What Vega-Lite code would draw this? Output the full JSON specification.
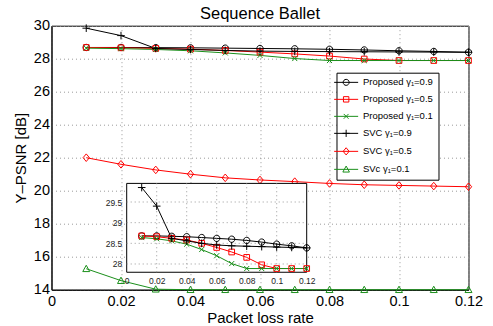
{
  "$schema": "https://vega.github.io/schema/vega-lite/v6.json",
  "width": 417,
  "height": 264,
  "autosize": {"type": "none"},
  "padding": {"left": 51.5, "top": 25.7, "right": 24.3, "bottom": 36.3},
  "background": "white",
  "title": {"text": "Sequence Ballet", "fontSize": 16.5, "fontWeight": "normal", "font": "Liberation Sans", "color": "black", "frame": "group", "offset": 2, "dy": 7},
  "config": {
    "font": "Liberation Sans",
    "view": {"stroke": "black", "strokeWidth": 1},
    "axis": {"labelColor": "black", "titleColor": "black", "labelFont": "Liberation Sans", "titleFont": "Liberation Sans", "titleFontWeight": "normal", "domainColor": "black", "tickColor": "black"}
  },
  "datasets": {
    "pts": [
      {"x": 0.01, "y": 28.68, "s": "Proposed γ₁=0.9"},
      {"x": 0.02, "y": 28.68, "s": "Proposed γ₁=0.9"},
      {"x": 0.03, "y": 28.67, "s": "Proposed γ₁=0.9"},
      {"x": 0.04, "y": 28.66, "s": "Proposed γ₁=0.9"},
      {"x": 0.05, "y": 28.64, "s": "Proposed γ₁=0.9"},
      {"x": 0.06, "y": 28.62, "s": "Proposed γ₁=0.9"},
      {"x": 0.07, "y": 28.6, "s": "Proposed γ₁=0.9"},
      {"x": 0.08, "y": 28.57, "s": "Proposed γ₁=0.9"},
      {"x": 0.09, "y": 28.53, "s": "Proposed γ₁=0.9"},
      {"x": 0.1, "y": 28.48, "s": "Proposed γ₁=0.9"},
      {"x": 0.11, "y": 28.44, "s": "Proposed γ₁=0.9"},
      {"x": 0.12, "y": 28.39, "s": "Proposed γ₁=0.9"},
      {"x": 0.01, "y": 28.68, "s": "Proposed γ₁=0.5"},
      {"x": 0.02, "y": 28.66, "s": "Proposed γ₁=0.5"},
      {"x": 0.03, "y": 28.62, "s": "Proposed γ₁=0.5"},
      {"x": 0.04, "y": 28.58, "s": "Proposed γ₁=0.5"},
      {"x": 0.05, "y": 28.5, "s": "Proposed γ₁=0.5"},
      {"x": 0.06, "y": 28.4, "s": "Proposed γ₁=0.5"},
      {"x": 0.07, "y": 28.29, "s": "Proposed γ₁=0.5"},
      {"x": 0.08, "y": 28.16, "s": "Proposed γ₁=0.5"},
      {"x": 0.09, "y": 27.98, "s": "Proposed γ₁=0.5"},
      {"x": 0.1, "y": 27.89, "s": "Proposed γ₁=0.5"},
      {"x": 0.11, "y": 27.89, "s": "Proposed γ₁=0.5"},
      {"x": 0.12, "y": 27.89, "s": "Proposed γ₁=0.5"},
      {"x": 0.01, "y": 28.64, "s": "Proposed γ₁=0.1"},
      {"x": 0.02, "y": 28.61, "s": "Proposed γ₁=0.1"},
      {"x": 0.03, "y": 28.56, "s": "Proposed γ₁=0.1"},
      {"x": 0.04, "y": 28.48, "s": "Proposed γ₁=0.1"},
      {"x": 0.05, "y": 28.35, "s": "Proposed γ₁=0.1"},
      {"x": 0.06, "y": 28.2, "s": "Proposed γ₁=0.1"},
      {"x": 0.07, "y": 28.01, "s": "Proposed γ₁=0.1"},
      {"x": 0.08, "y": 27.89, "s": "Proposed γ₁=0.1"},
      {"x": 0.09, "y": 27.89, "s": "Proposed γ₁=0.1"},
      {"x": 0.1, "y": 27.89, "s": "Proposed γ₁=0.1"},
      {"x": 0.11, "y": 27.89, "s": "Proposed γ₁=0.1"},
      {"x": 0.12, "y": 27.89, "s": "Proposed γ₁=0.1"},
      {"x": 0.01, "y": 29.85, "s": "SVC γ₁=0.9"},
      {"x": 0.02, "y": 29.4, "s": "SVC γ₁=0.9"},
      {"x": 0.03, "y": 28.62, "s": "SVC γ₁=0.9"},
      {"x": 0.04, "y": 28.56, "s": "SVC γ₁=0.9"},
      {"x": 0.05, "y": 28.5, "s": "SVC γ₁=0.9"},
      {"x": 0.06, "y": 28.46, "s": "SVC γ₁=0.9"},
      {"x": 0.07, "y": 28.44, "s": "SVC γ₁=0.9"},
      {"x": 0.08, "y": 28.43, "s": "SVC γ₁=0.9"},
      {"x": 0.09, "y": 28.42, "s": "SVC γ₁=0.9"},
      {"x": 0.1, "y": 28.41, "s": "SVC γ₁=0.9"},
      {"x": 0.11, "y": 28.4, "s": "SVC γ₁=0.9"},
      {"x": 0.12, "y": 28.39, "s": "SVC γ₁=0.9"},
      {"x": 0.01, "y": 22.0, "s": "SVC γ₁=0.5"},
      {"x": 0.02, "y": 21.6, "s": "SVC γ₁=0.5"},
      {"x": 0.03, "y": 21.26, "s": "SVC γ₁=0.5"},
      {"x": 0.04, "y": 21.0, "s": "SVC γ₁=0.5"},
      {"x": 0.05, "y": 20.78, "s": "SVC γ₁=0.5"},
      {"x": 0.06, "y": 20.65, "s": "SVC γ₁=0.5"},
      {"x": 0.07, "y": 20.55, "s": "SVC γ₁=0.5"},
      {"x": 0.08, "y": 20.44, "s": "SVC γ₁=0.5"},
      {"x": 0.09, "y": 20.36, "s": "SVC γ₁=0.5"},
      {"x": 0.1, "y": 20.32, "s": "SVC γ₁=0.5"},
      {"x": 0.11, "y": 20.28, "s": "SVC γ₁=0.5"},
      {"x": 0.12, "y": 20.24, "s": "SVC γ₁=0.5"},
      {"x": 0.01, "y": 15.27, "s": "SVc γ₁=0.1"},
      {"x": 0.02, "y": 14.55, "s": "SVc γ₁=0.1"},
      {"x": 0.03, "y": 14.03, "s": "SVc γ₁=0.1"},
      {"x": 0.04, "y": 14.0, "s": "SVc γ₁=0.1"},
      {"x": 0.05, "y": 14.0, "s": "SVc γ₁=0.1"},
      {"x": 0.06, "y": 14.0, "s": "SVc γ₁=0.1"},
      {"x": 0.07, "y": 14.0, "s": "SVc γ₁=0.1"},
      {"x": 0.08, "y": 14.0, "s": "SVc γ₁=0.1"},
      {"x": 0.09, "y": 14.0, "s": "SVc γ₁=0.1"},
      {"x": 0.1, "y": 14.0, "s": "SVc γ₁=0.1"},
      {"x": 0.11, "y": 14.0, "s": "SVc γ₁=0.1"},
      {"x": 0.12, "y": 14.0, "s": "SVc γ₁=0.1"}
    ],
    "gridx": [{"gx": 0.02}, {"gx": 0.04}, {"gx": 0.06}, {"gx": 0.08}, {"gx": 0.1}],
    "gridy": [{"gy": 28}, {"gy": 28.5}, {"gy": 29}, {"gy": 29.5}],
    "box": [{"x0": 0, "x1": 0.12, "y0": 27.8, "y1": 29.95}]
  },
  "resolve": {"scale": {"x": "independent", "y": "independent"}},
  "layer": [
    {
      "data": {"name": "pts"},
      "encoding": {
        "x": {"field": "x", "type": "quantitative", "scale": {"domain": [0, 0.12], "nice": false, "zero": false},
          "axis": {"orient": "bottom", "title": "Packet loss rate", "values": [0, 0.02, 0.04, 0.06, 0.08, 0.1, 0.12], "format": ".2~f", "labelFontSize": 14.5, "titleFontSize": 15, "labelPadding": 5, "titlePadding": 2, "ticks": false, "grid": true, "gridColor": "#9a9a9a", "gridDash": [1, 3], "labelFlush": false}},
        "y": {"field": "y", "type": "quantitative", "scale": {"domain": [14, 30], "nice": false, "zero": false},
          "axis": {"orient": "left", "title": "Y–PSNR [dB]", "values": [14, 16, 18, 20, 22, 24, 26, 28, 30], "format": "d", "labelFontSize": 14.5, "titleFontSize": 15, "labelPadding": 2, "titlePadding": 5, "ticks": false, "grid": true, "gridColor": "#9a9a9a", "gridDash": [1, 3]}}
      },
      "layer": [
        {"mark": {"type": "line", "strokeWidth": 1},
          "encoding": {"color": {"field": "s", "type": "nominal",
            "scale": {"domain": ["Proposed γ₁=0.9", "Proposed γ₁=0.5", "Proposed γ₁=0.1", "SVC γ₁=0.9", "SVC γ₁=0.5", "SVc γ₁=0.1"],
              "range": ["#000000", "#ff0000", "#1a8f1a", "#000000", "#ff0000", "#1a8f1a"]}}}},
        {"mark": {"type": "point", "filled": false, "size": 40, "strokeWidth": 1, "opacity": 1},
          "encoding": {
            "color": {"field": "s", "type": "nominal",
              "legend": {"title": null, "orient": "none", "legendX": 285, "legendY": 47, "strokeColor": "black", "fillColor": "white", "padding": 4.9, "rowPadding": 6.0, "labelFontSize": 9.5, "labelFont": "Liberation Sans", "labelColor": "black", "symbolSize": 36, "symbolStrokeWidth": 1, "symbolOffset": 0, "labelOffset": 12, "symbolOpacity": 1,
                "encode": {"symbols": {"update": {"shape": {"signal": "'M-4,0H4' + scale('shape', datum.value)"}}}},
                "encoding": {"symbols": {"shape": {"value": {"expr": "'M-4,0H4' + scale('shape', datum.value)"}}}}}},
            "shape": {"field": "s", "type": "nominal",
              "scale": {"domain": ["SVc γ₁=0.1", "SVC γ₁=0.5", "SVC γ₁=0.9", "Proposed γ₁=0.1", "Proposed γ₁=0.5", "Proposed γ₁=0.9"],
                "range": ["M0,-1.1L1.1,0.9H-1.1Z", "M0,-1.2L1,0L0,1.2L-1,0Z", "M-1.2,0H1.2M0,-1.2V1.2", "M-0.8,-0.8L0.8,0.8M-0.8,0.8L0.8,-0.8", "M-0.9,-0.9H0.9V0.9H-0.9Z", "M1,0A1,1,0,1,1,-1,0A1,1,0,1,1,1,0Z"]},
              "legend": null
            }
          }
        }
      ]
    },
    {
      "encoding": {
        "x": {"type": "quantitative", "scale": {"domain": [-0.05013, 0.22787], "nice": false, "zero": false},
          "axis": {"orient": "bottom", "title": null, "offset": -17, "values": [0, 0.02, 0.04, 0.06, 0.08, 0.1, 0.12], "format": ".2~f", "labelFontSize": 8.5, "labelPadding": 4, "ticks": false, "domain": false, "grid": false, "labelColor": "#222222", "labelFlush": false, "labelOverlap": false, "zindex": 1}},
        "y": {"type": "quantitative", "scale": {"domain": [27.378, 33.766], "nice": false, "zero": false},
          "axis": {"orient": "left", "title": null, "offset": -75.2, "values": [28, 28.5, 29, 29.5], "format": ".1~f", "labelFontSize": 8.5, "labelPadding": 5, "ticks": false, "domain": false, "grid": false, "labelColor": "#222222", "labelOverlap": false, "zindex": 1}}
      },
      "layer": [
        {"data": {"name": "box"}, "mark": {"type": "rect", "fill": "white", "stroke": "black", "strokeWidth": 1},
          "encoding": {"x": {"field": "x0", "type": "quantitative"}, "x2": {"field": "x1"}, "y": {"field": "y0", "type": "quantitative"}, "y2": {"field": "y1"}}},
        {"data": {"name": "gridx"}, "mark": {"type": "rule", "stroke": "#9a9a9a", "strokeDash": [1, 3], "strokeWidth": 1},
          "encoding": {"x": {"field": "gx", "type": "quantitative"}, "y": {"datum": 27.8}, "y2": {"datum": 29.95}}},
        {"data": {"name": "gridy"}, "mark": {"type": "rule", "stroke": "#9a9a9a", "strokeDash": [1, 3], "strokeWidth": 1},
          "encoding": {"y": {"field": "gy", "type": "quantitative"}, "x": {"datum": 0}, "x2": {"datum": 0.12}}},
        {"data": {"name": "pts"}, "transform": [{"filter": {"field": "s", "oneOf": ["Proposed γ₁=0.9", "Proposed γ₁=0.5", "Proposed γ₁=0.1", "SVC γ₁=0.9"]}}],
          "mark": {"type": "line", "strokeWidth": 1},
          "encoding": {"x": {"field": "x", "type": "quantitative"}, "y": {"field": "y", "type": "quantitative"}, "color": {"field": "s", "type": "nominal"}}},
        {"data": {"name": "pts"}, "transform": [{"filter": {"field": "s", "oneOf": ["Proposed γ₁=0.9", "Proposed γ₁=0.5", "Proposed γ₁=0.1", "SVC γ₁=0.9"]}}],
          "mark": {"type": "point", "filled": false, "size": 40, "strokeWidth": 1, "opacity": 1},
          "encoding": {"x": {"field": "x", "type": "quantitative"}, "y": {"field": "y", "type": "quantitative"}, "color": {"field": "s", "type": "nominal"}, "shape": {"field": "s", "type": "nominal", "legend": null}}}
      ]
    }
  ]
}
